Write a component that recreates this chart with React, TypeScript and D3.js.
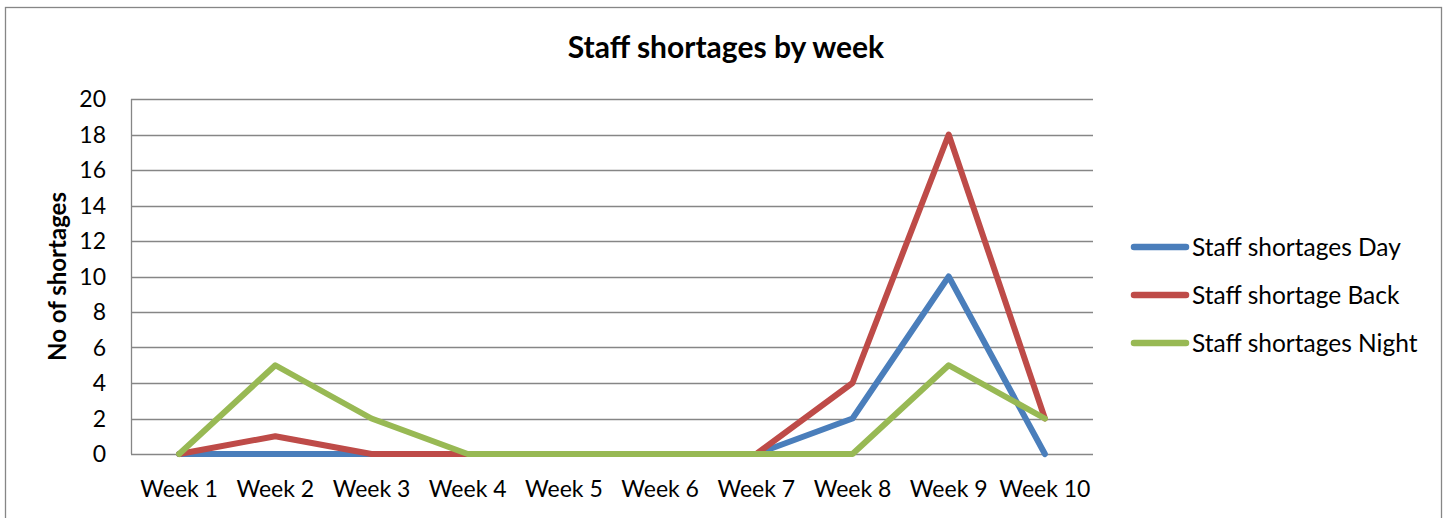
import React from 'react'
import * as d3 from 'd3'

const weeks = ['Week 1', 'Week 2', 'Week 3', 'Week 4', 'Week 5', 'Week 6', 'Week 7', 'Week 8', 'Week 9', 'Week 10']
const dayValues = [0, 0, 0, 0, 0, 0, 0, 2, 10, 0]
const backValues = [0, 1, 0, 0, 0, 0, 0, 4, 18, 2]
const nightValues = [0, 5, 2, 0, 0, 0, 0, 0, 5, 2]
const yTicks = [0, 2, 4, 6, 8, 10, 12, 14, 16, 18, 20]

const series = [
  { name: 'Staff shortages Day', values: dayValues, color: '#4A7EBB' },
  { name: 'Staff shortage Back', values: backValues, color: '#BE4B48' },
  { name: 'Staff shortages Night', values: nightValues, color: '#98B954' },
]

const W = 1448
const H = 518
const plot = { left: 131, right: 1093, top: 99, bottom: 454 }
const font = 'Lato, "Open Sans", sans-serif'

const App: React.FC = () => {
  const x = d3.scalePoint<string>().domain(weeks).range([plot.left, plot.right]).padding(0.5)
  const y = d3.scaleLinear().domain([0, 20]).range([plot.bottom, plot.top])

  const line = d3.line<number>()
    .x((_, i) => x(weeks[i])!)
    .y(d => y(d))

  return (
    <svg width={W} height={H} style={{ position: 'absolute', left: 0, top: 0, background: '#fff' }}>
      {/* chart frame */}
      <rect x={5.5} y={7.5} width={1436} height={530} fill="#fff" stroke="#868686" strokeWidth={1.3} />

      <text x={726} y={58} textAnchor="middle" fontFamily={font} fontWeight="bold" fontSize={30} fill="#000">
        Staff shortages by week
      </text>

      {/* gridlines */}
      {yTicks.map(t => (
        <line key={t} x1={plot.left} x2={plot.right} y1={Math.round(y(t)) + 0.5} y2={Math.round(y(t)) + 0.5}
          stroke="#868686" strokeWidth={1.3} />
      ))}
      <line x1={plot.left + 0.5} x2={plot.left + 0.5} y1={plot.top} y2={plot.bottom} stroke="#868686" strokeWidth={1.3} />

      {/* y tick labels */}
      {yTicks.map(t => (
        <text key={t} x={106} y={y(t)} dy="0.36em" textAnchor="end" fontFamily={font} fontSize={23} fill="#000">
          {t}
        </text>
      ))}

      <text transform={`translate(66,${(plot.top + plot.bottom) / 2}) rotate(-90)`} textAnchor="middle"
        fontFamily={font} fontWeight="bold" fontSize={24} fill="#000">
        No of shortages
      </text>

      {/* x tick labels */}
      {weeks.map(w => (
        <text key={w} x={x(w)} y={497} textAnchor="middle" fontFamily={font} fontSize={23} fill="#000">
          {w}
        </text>
      ))}

      {/* series */}
      {series.map(s => (
        <path key={s.name} d={line(s.values)!} fill="none" stroke={s.color} strokeWidth={6}
          strokeLinejoin="round" strokeLinecap="round" />
      ))}

      {/* legend */}
      {series.map((s, i) => (
        <g key={s.name} transform={`translate(0,${247 + i * 48})`}>
          <line x1={1134} x2={1186} y1={0} y2={0} stroke={s.color} strokeWidth={6.5} strokeLinecap="round" />
          <text x={1192} y={0} dy="0.35em" fontFamily={font} fontSize={24.5} fill="#000">{s.name}</text>
        </g>
      ))}
    </svg>
  )
}

export default App
